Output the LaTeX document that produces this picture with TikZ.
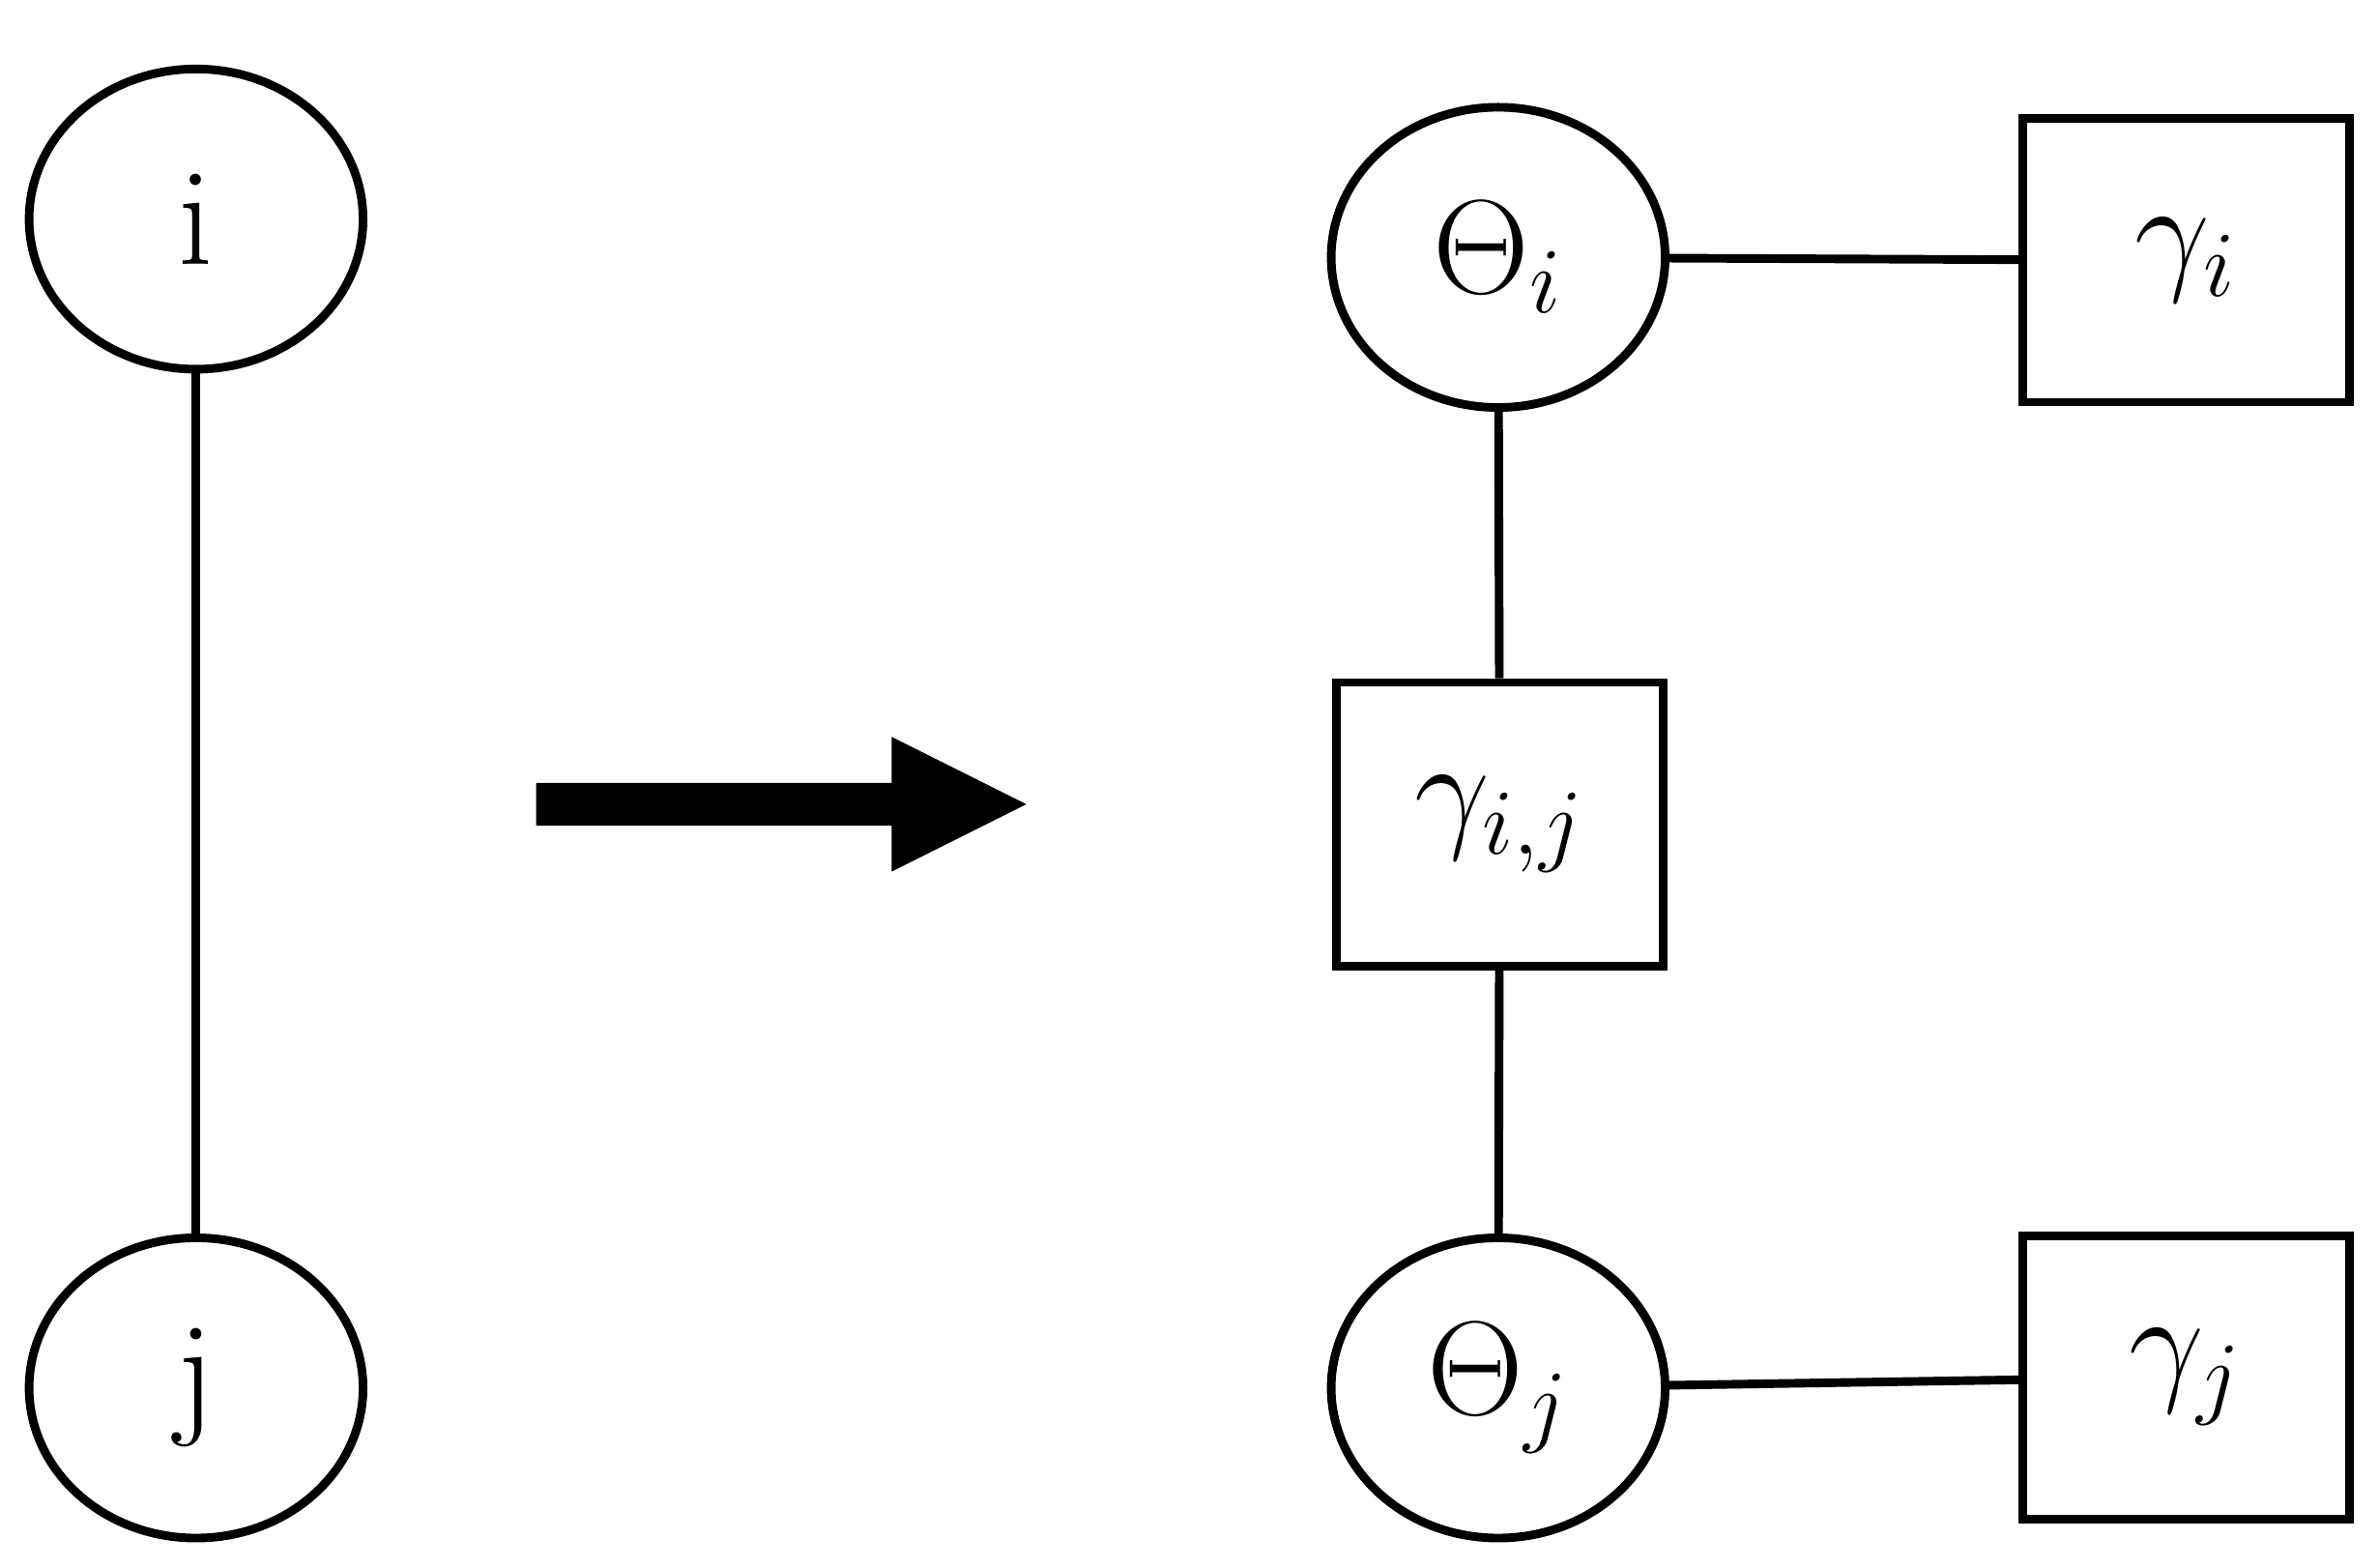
\documentclass[tikz,border=0pt]{standalone}
\usepackage{amsmath}
\usetikzlibrary{shapes.geometric}
\begin{document}
\begin{tikzpicture}[x=0.1mm,y=-0.1mm,line width=1.6pt,
  var/.style={draw,ellipse,minimum width=21.8mm,minimum height=19.6mm,inner sep=0pt,font=\fontsize{26}{30}\selectfont},
  fac/.style={draw,rectangle,minimum width=21.3mm,minimum height=18.5mm,inner sep=0pt,font=\fontsize{26}{30}\selectfont}]
  \useasboundingbox (0,0) rectangle (1553,1023);
  \node[var] (i) at (128,143) {i};
  \node[var] (j) at (128,906) {j};
  \node[var] (ti) at (978,168) {$\Theta_i$};
  \node[var] (tj) at (978,906) {$\Theta_j$};
  \node[fac] (gi) at (1427,170) {$\gamma_i$};
  \node[fac] (gij) at (979,538) {$\gamma_{i,j}$};
  \node[fac] (gj) at (1427,899) {$\gamma_j$};
  \draw (i) -- (j);
  \draw (ti) -- (gi);
  \draw (ti) -- (gij);
  \draw (gij) -- (tj);
  \draw (tj) -- (gj);
  \fill (350,511) -- (582,511) -- (582,481) -- (670,525) -- (582,569) -- (582,539) -- (350,539) -- cycle;
\end{tikzpicture}
\end{document}
